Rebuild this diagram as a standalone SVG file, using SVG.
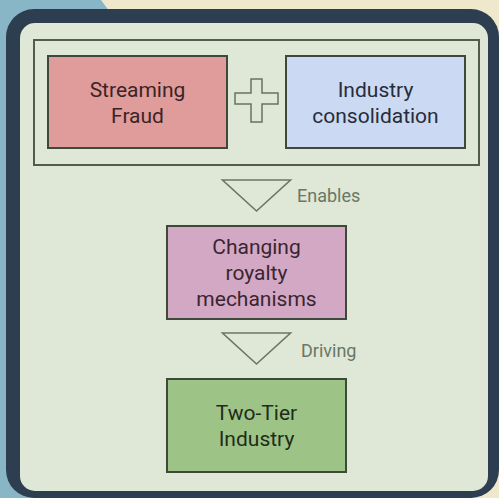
<svg xmlns="http://www.w3.org/2000/svg" width="499" height="498" viewBox="0 0 499 498">
<style>
.node rect{stroke:#3d4a3b;stroke-width:2}
.lbl{font-family:Roboto,"Liberation Sans",sans-serif;font-size:21px;text-anchor:middle}
.edge{fill:#dfe8d6;stroke:#6a7764;stroke-width:1.6;stroke-linejoin:miter}
.elbl{font-family:Roboto,"Liberation Sans",sans-serif;font-size:18px;fill:#6a7764}
</style>
<rect x="0" y="0" width="499" height="498" fill="#89b6c6"/>
<polygon points="101,0 499,0 499,498 470,498" fill="#efe8cd"/>
<rect x="6" y="9" width="493" height="489" rx="28" fill="#2d3e50"/>
<rect x="20" y="23" width="468" height="468" rx="15" fill="#dfe8d6"/>
<g id="group">
<rect x="34" y="40" width="445" height="125" fill="none" stroke="#4f5d4a" stroke-width="2"/>
</g>
<g id="streaming-fraud" class="node">
<rect x="48" y="56" width="179" height="92" fill="#e09c9a"/>
<text class="lbl" fill="#3b2427" x="137.5" y="97">Streaming</text>
<text class="lbl" fill="#3b2427" x="137.5" y="123">Fraud</text>
</g>
<g id="plus">
<path d="M251,79 H262 V93 H278 V104 H262 V122 H251 V104 H235 V93 H251 Z" fill="#dfe8d6" stroke="#66735f" stroke-width="1.5"/>
</g>
<g id="industry-consolidation" class="node">
<rect x="286" y="56" width="179" height="92" fill="#ccd9f2"/>
<text class="lbl" fill="#262c3c" x="375.5" y="97">Industry</text>
<text class="lbl" fill="#262c3c" x="375.5" y="123">consolidation</text>
</g>
<g id="changing-royalty" class="node">
<rect x="167" y="226" width="179" height="93" fill="#d3a8c4"/>
<text class="lbl" fill="#3a2530" x="256.5" y="254">Changing</text>
<text class="lbl" fill="#3a2530" x="256.5" y="280">royalty</text>
<text class="lbl" fill="#3a2530" x="256.5" y="306">mechanisms</text>
</g>
<g id="two-tier" class="node">
<rect x="167" y="379" width="179" height="93" fill="#9dc486"/>
<text class="lbl" fill="#1f2c1b" x="256.5" y="420">Two-Tier</text>
<text class="lbl" fill="#1f2c1b" x="256.5" y="446">Industry</text>
</g>
<g id="connectors">
<polygon class="edge" points="222.5,180 290.5,180 256.5,211"/>
<text class="elbl" x="297" y="202">Enables</text>
<polygon class="edge" points="222.5,333 290.5,333 256.5,364"/>
<text class="elbl" x="301" y="357">Driving</text>
</g>
</svg>
